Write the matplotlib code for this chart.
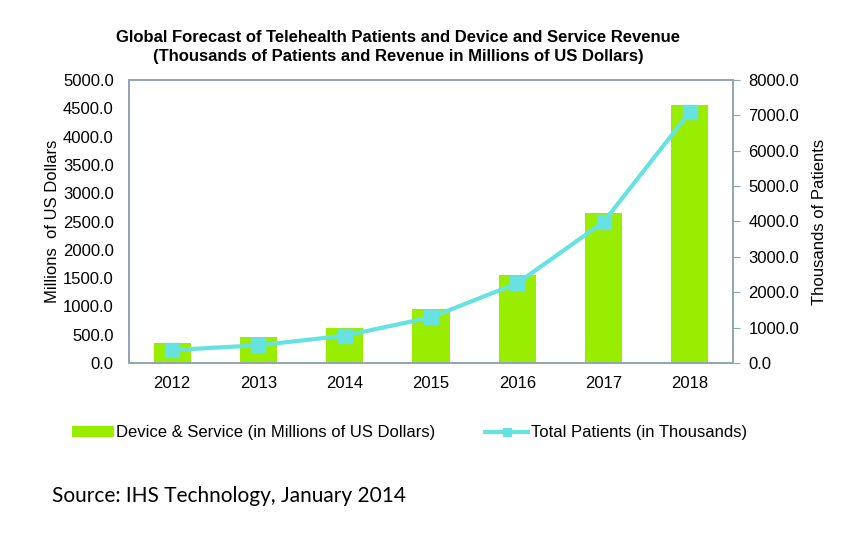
import matplotlib
matplotlib.use("Agg")
import matplotlib.pyplot as plt
from matplotlib.lines import Line2D
from matplotlib.patches import Patch
import numpy as np

years = ["2012", "2013", "2014", "2015", "2016", "2017", "2018"]
revenue = [345, 455, 613, 949, 1555, 2650, 4558]      # millions of US dollars
patients = [367, 500, 772, 1292, 2253, 3986, 7095]   # thousands

BAR_GREEN = "#99EE00"
LINE_CYAN = "#66E3E0"
SPINE = "#8FA4B6"

plt.rcParams["font.family"] = ["Liberation Sans", "DejaVu Sans"]

fig = plt.figure(figsize=(8.61, 5.49), dpi=100)
ax = fig.add_axes([129 / 861, 1 - 363 / 549, (733 - 129) / 861, (363 - 80) / 549])
x = np.arange(len(years))

ax.bar(x, revenue, width=0.43, color=BAR_GREEN, zorder=2)
ax.set_xlim(-0.5, len(years) - 0.5)
ax.set_ylim(0, 5000)
ax.set_yticks(np.arange(0, 5001, 500))
ax.set_yticklabels([f"{v:.1f}" for v in np.arange(0, 5001, 500)])
ax.set_xticks(x)
ax.set_xticklabels(years)
ax.tick_params(axis="y", length=0, labelsize=12, pad=11)
ax.tick_params(axis="x", length=0, labelsize=12, pad=9)
ax.set_ylabel("Millions  of US Dollars", fontsize=12, labelpad=2)

ax2 = ax.twinx()
ax2.plot(x, patients, color=LINE_CYAN, linewidth=3, marker="s", markersize=9.5,
         markerfacecolor=LINE_CYAN, markeredgecolor=LINE_CYAN, zorder=3)
ax2.set_ylim(0, 8000)
ax2.set_yticks(np.arange(0, 8001, 1000))
ax2.set_yticklabels([f"{v:.1f}" for v in np.arange(0, 8001, 1000)])
ax2.tick_params(axis="y", length=5, color=SPINE, labelsize=12, pad=6)
ax2.set_ylabel("Thousands of Patients", fontsize=12, labelpad=9)

for a in (ax, ax2):
    for s in a.spines.values():
        s.set_color(SPINE)
        s.set_linewidth(1.2)

fig.text(398 / 861, 1 - 38 / 549, "Global Forecast of Telehealth Patients and Device and Service Revenue",
         ha="center", va="center", fontsize=12, fontweight="bold")
fig.text(398 / 861, 1 - 57 / 549, "(Thousands of Patients and Revenue in Millions of US Dollars)",
         ha="center", va="center", fontsize=12, fontweight="bold")

bar_handle = Patch(facecolor=BAR_GREEN, edgecolor="none")
line_handle = Line2D([], [], color=LINE_CYAN, linewidth=3, marker="s", markersize=6)
fig.legend([bar_handle], ["Device & Service (in Millions of US Dollars)"],
           loc="center left", bbox_to_anchor=(72 / 861, 1 - 433 / 549),
           frameon=False, fontsize=12, handlelength=2.5, handleheight=0.6,
           handletextpad=0.15, borderpad=0, borderaxespad=0)
fig.legend([line_handle], ["Total Patients (in Thousands)"],
           loc="center left", bbox_to_anchor=(485 / 861, 1 - 433 / 549),
           frameon=False, fontsize=12, handlelength=2.6, handletextpad=0.15,
           borderpad=0, borderaxespad=0)

fig.text(52 / 861, 1 - 496 / 549, "Source: IHS Technology, January 2014",
         ha="left", va="center", fontsize=15, family=["Lato", "DejaVu Sans"])

fig.savefig("out.png", dpi=100)
